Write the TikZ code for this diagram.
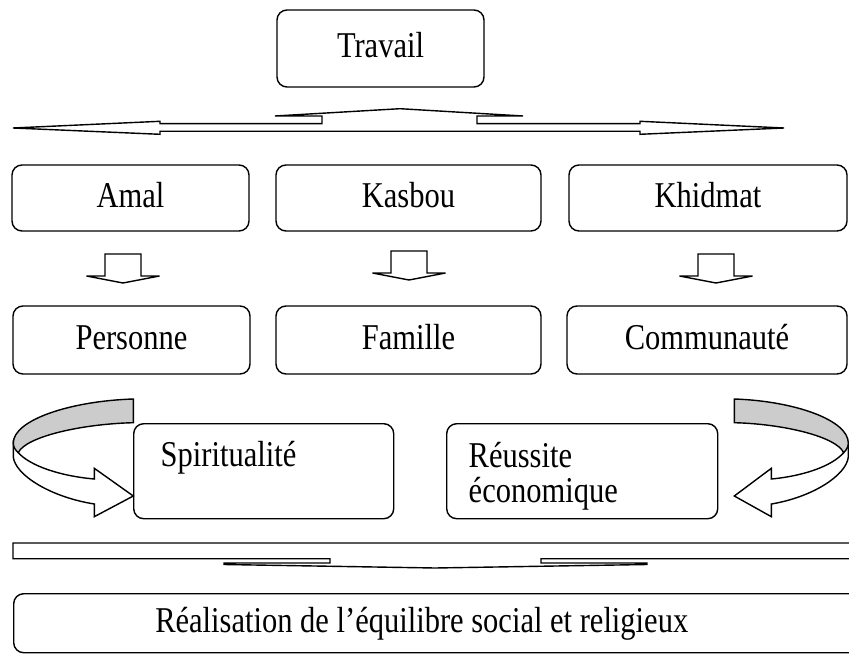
\documentclass[tikz,border=0pt]{standalone}
\usepackage{fontspec}
\setmainfont{Liberation Serif}[FakeStretch=0.84]
\usetikzlibrary{calc}
\definecolor{grayband}{RGB}{204,204,204}
\begin{document}
\begin{tikzpicture}[x=0.03cm,y=-0.03cm,
  box/.style={draw, line width=1.2pt, rounded corners=0.3cm, fill=white,
    font=\fontsize{31}{30}\selectfont, inner sep=0pt},
  cbox/.style={box, text height=22pt, text depth=6pt},
  shapeline/.style={draw, line width=1.2pt, line join=miter, fill=white},
  downarr/.pic={\draw[shapeline] (-18,-29) -- (18,-29) -- (18,-7) -- (36.5,-7)
      -- (0,0) -- (-36.5,-7) -- (-18,-7) -- cycle;},
  curvarr/.pic={
    \draw[shapeline] (-120,44) -- (-120,58) .. controls (-118,76) and (-83,98) .. (-39,105)
      -- (-39,117.7) -- (0,97) -- (-39,69.3) -- (-39,80)
      .. controls (-73,77) and (-103,67) .. (-115,53.7) -- cycle;
    \draw[shapeline, fill=grayband] (0,0) .. controls (-63,2) and (-120,21) .. (-120,44)
      .. controls (-120,48) and (-118,51) .. (-115,53.7)
      .. controls (-108,38) and (-53,25) .. (0,23.7) -- cycle;}
]
\useasboundingbox (0,0) rectangle (849,657);
\clip (0,0) rectangle (849,657);

% top
\node[cbox, minimum width=6.21cm, minimum height=2.31cm] (travail) at (380.5,48.5) {Travail};

% double arrow with up branch
\draw[shapeline] (13,128) -- (160,121.3) -- (160,123.7) -- (322,123.7) -- (322,116)
  -- (275,116) -- (400,108.7) -- (523,116) -- (477,116) -- (477,123.7) -- (640,123.7)
  -- (640,121.3) -- (784,128) -- (640,134.3) -- (640,131.3) -- (160,131.3)
  -- (160,134.3) -- cycle;

% row 2
\node[cbox, minimum width=7.11cm, minimum height=1.98cm] (amal) at (130.5,198) {Amal};
\node[cbox, minimum width=7.95cm, minimum height=1.98cm] (kasbou) at (408.5,198) {Kasbou};
\node[cbox, minimum width=8.34cm, minimum height=1.98cm] (khidmat) at (708,198) {Khidmat};

% down arrows
\pic at (123,283) {downarr};
\pic at (409,280) {downarr};
\pic at (716,283) {downarr};

% row 3
\node[cbox, minimum width=7.11cm, minimum height=2.04cm] (personne) at (131.5,340) {Personne};
\node[cbox, minimum width=7.95cm, minimum height=2.04cm] (famille) at (408.5,340) {Famille};
\node[cbox, minimum width=8.4cm, minimum height=2.04cm] (communaute) at (707,340) {Communauté};

% row 4
\node[box, anchor=north west, inner xsep=0.81cm, inner ysep=0.52cm] (spirit) at (133,423)
  {\parbox[t][1.81cm][t]{6.18cm}{\raggedright Spiritualité}};
\node[box, anchor=north west, inner xsep=0.66cm, inner ysep=0.55cm] (reussite) at (446,423)
  {\parbox[t][1.75cm][t]{6.81cm}{\raggedright Réussite\\économique}};

% curved arrows
\pic at (133.3,399) {curvarr};
\pic[xscale=-0.95] at (734.3,399) {curvarr};

% bottom bar arrow
\draw[shapeline] (13,543) -- (870,543) -- (870,558.7) -- (541,558.7) -- (541,563)
  -- (647,563) -- (647,564.5) -- (435,568) -- (224,564.5) -- (224,563) -- (330,563)
  -- (330,558.7) -- (13,558.7) -- cycle;

% bottom box
\node[cbox, anchor=north west, minimum height=1.77cm] (realisation) at (13,593)
  {\makebox[24.48cm][c]{Réalisation de l’équilibre social et religieux}\hspace*{1.2cm}};
\end{tikzpicture}
\end{document}
